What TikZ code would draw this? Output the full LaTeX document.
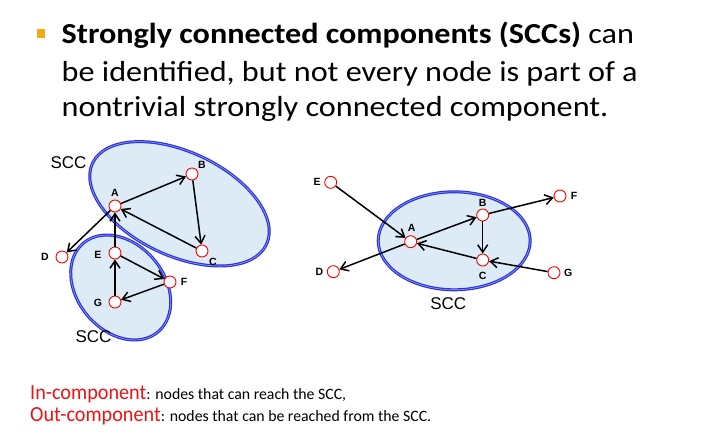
\documentclass[tikz,border=0pt]{standalone}
\usepackage{fontspec}
\setmainfont{Carlito}
\newfontfamily\titlefont[FakeStretch=1.11]{Carlito}
\newfontfamily\notefont[FakeStretch=0.94]{Carlito}
\newfontfamily\arialfont{Liberation Sans}
\usetikzlibrary{arrows.meta}
\definecolor{sccfill}{RGB}{220,235,246}
\definecolor{sccblue}{RGB}{40,50,220}
\definecolor{bulletorange}{RGB}{240,170,20}
\definecolor{txtred}{RGB}{235,20,20}
\begin{document}
\begin{tikzpicture}[x=1pt,y=1pt,
  vert/.style={circle,draw=red,fill=white,line width=0.9pt,minimum size=12pt,inner sep=0pt},
  lbl/.style={font=\arialfont\bfseries\fontsize{10.5}{11}\selectfont,inner sep=0pt},
  scclbl/.style={font=\arialfont\fontsize{17}{18}\selectfont,inner sep=0pt},
  edge/.style={line width=1.5pt,-{Straight Barb[length=7.5pt,width=10pt,line width=1.5pt]}},
  sccring/.style={draw=sccblue,line width=3pt,fill=sccfill},
  sccinner/.style={draw=white!55!sccblue,line width=0.6pt},
  titletext/.style={anchor=base west,inner sep=0pt,font=\titlefont\fontsize{29}{35}\selectfont}]
\useasboundingbox (0,0) rectangle (710,-437);
\fill[white] (0,0) rectangle (710,-437);
% title
\fill[bulletorange] (37,-29) rectangle (45,-38);
\node[titletext] (t1) at (61.5,-43.5) {\textbf{Strongly connected components (SCCs)} can};
\node[titletext] (t2) at (61.5,-81.5) {be identified, but not every node is part of a};
\node[titletext] (t3) at (61.5,-116.5) {nontrivial strongly connected component.};
% left SCC ellipses
\path[sccring] (179.5,-203.8) ellipse[x radius=96,y radius=52,rotate=-25];
\path[sccinner] (179.5,-203.8) ellipse[x radius=96,y radius=52,rotate=-25];
\path[sccring] (120.7,-287.5) ellipse[x radius=58,y radius=43.5,rotate=-50];
\path[sccinner] (120.7,-287.5) ellipse[x radius=58,y radius=43.5,rotate=-50];
% left nodes
\node[vert] (A) at (115,-206) {};
\node[vert] (B) at (192,-174) {};
\node[vert] (C) at (202,-251) {};
\node[vert] (D) at (62,-257) {};
\node[vert] (E) at (115,-253) {};
\node[vert] (F) at (170,-282) {};
\node[vert] (G) at (115,-302) {};
\node[lbl] (lA) at (115,-193) {A};
\node[lbl] (lB) at (202,-165) {B};
\node[lbl] (lC) at (213,-262) {C};
\node[lbl] (lD) at (45,-257) {D};
\node[lbl] (lE) at (98,-255) {E};
\node[lbl] (lF) at (184,-282) {F};
\node[lbl] (lG) at (98,-303) {G};
\node[scclbl] (s1) at (68.5,-163) {SCC};
\node[scclbl] (s2) at (93.5,-337) {SCC};
\draw[edge] (A) -- (B);
\draw[edge] (B) -- (C);
\draw[edge] (C) -- (A);
\draw[edge] (A) -- (D);
\draw[edge] (E) -- (A);
\draw[edge] (E) -- (F);
\draw[edge] (F) -- (G);
\draw[edge] (G) -- (E);
% right SCC
\path[sccring] (454.2,-240.8) ellipse[x radius=76,y radius=49];
\path[sccinner] (454.2,-240.8) ellipse[x radius=76,y radius=49];
\node[vert] (rE) at (330.7,-182.3) {};
\node[vert] (rA) at (410.7,-241.7) {};
\node[vert] (rB) at (482.7,-215) {};
\node[vert] (rC) at (482.7,-260) {};
\node[vert] (rF) at (560,-196) {};
\node[vert] (rD) at (333.3,-271.7) {};
\node[vert] (rG) at (554,-272.7) {};
\node[lbl] (lrE) at (317,-182) {E};
\node[lbl] (lrA) at (411.7,-228.3) {A};
\node[lbl] (lrB) at (482.7,-202.7) {B};
\node[lbl] (lrC) at (482.7,-276) {C};
\node[lbl] (lrF) at (574,-196) {F};
\node[lbl] (lrD) at (319.3,-271.7) {D};
\node[lbl] (lrG) at (568.3,-273.3) {G};
\node[scclbl] (s3) at (448.3,-303.3) {SCC};
\draw[edge] (rE) -- (rA);
\draw[edge] (rA) -- (rB);
\draw[edge] (rB) -- (rF);
\draw[edge] (rB) -- (rC);
\draw[edge] (rC) -- (rA);
\draw[edge] (rG) -- (rC);
\draw[edge] (rA) -- (rD);
% bottom text
\node[anchor=base west,inner sep=0pt] (b1) at (30,-399) {{\notefont\color{txtred}\fontsize{21.5}{24}\selectfont In-component}{\fontsize{15.8}{18}\selectfont: nodes that can reach the SCC,}};
\node[anchor=base west,inner sep=0pt] (b2) at (30,-421) {{\notefont\color{txtred}\fontsize{21.5}{24}\selectfont Out-component}{\fontsize{15.8}{18}\selectfont: nodes that can be reached from the SCC.}};
\end{tikzpicture}
\end{document}
